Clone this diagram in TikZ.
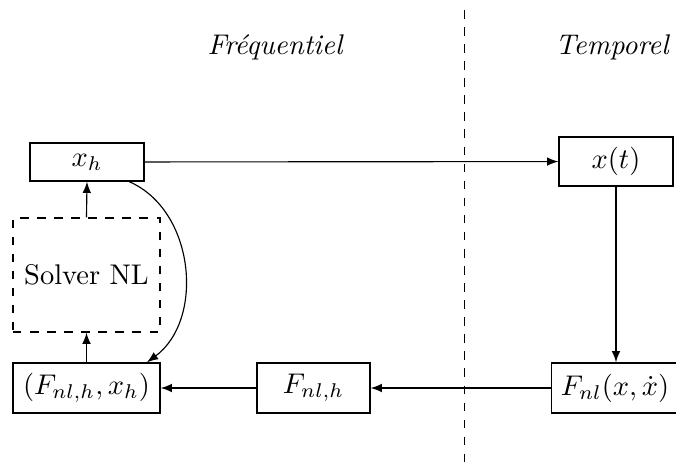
\documentclass[tikz,border=0pt]{standalone}
\usetikzlibrary{arrows}
\begin{document}
\begin{tikzpicture}[x=0.3515pt,y=-0.3515pt,
  blk/.style={draw,inner sep=3.33pt},
  conn/.style={-latex}]
\useasboundingbox (0,0) rectangle (676,462);
\node[font=\itshape] (fr) at (275,47) {Fréquentiel};
\node[font=\itshape] (te) at (612,47) {Temporel};
\coordinate (dtop) at (464.5,10);
\coordinate (dbot) at (464.5,462);
\draw[dashed] (dtop) -- (dbot);
\node[blk,minimum width=40.07pt,minimum height=13.36pt] (xh) at (87,162) {$x_h$};
\node[blk,minimum width=40.07pt,minimum height=17.22pt] (xt) at (616,161.5) {$x(t)$};
\node[draw,dashed,minimum width=51.7pt,minimum height=40.07pt] (sv) at (86.5,275) {Solver NL};
\node[blk,minimum width=51.7pt,minimum height=17.6pt] (F) at (86.5,388) {$(F_{nl,h},x_h)$};
\node[blk,minimum width=39.7pt,minimum height=17.6pt] (Fh) at (313.5,388) {$F_{nl,h}$};
\node[blk,minimum width=44pt,minimum height=17.6pt] (Fn) at (615,388) {$F_{nl}(x,\dot{x})$};
\draw[conn] (xh) -- (xt);
\draw[conn] (xt) -- (xt|-Fn.north);
\draw[conn] (Fn) -- (Fh);
\draw[conn] (Fh) -- (F);
\draw[conn] (F.north) -- (sv.south);
\draw[conn] (sv.north) -- (xh.south);
\draw[conn] (xh.-25) .. controls (195,210) and (205,320) .. (F.23);
\end{tikzpicture}
\end{document}
